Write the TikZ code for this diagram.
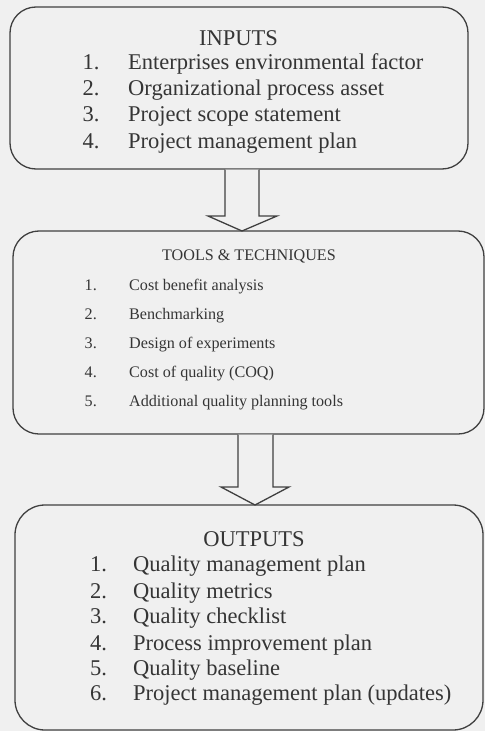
\documentclass[tikz,border=0pt]{standalone}
\usepackage{fontspec}
\setmainfont{Liberation Serif}
\definecolor{bgc}{HTML}{F0F0F0}
\definecolor{linec}{HTML}{404040}
\definecolor{txtc}{HTML}{353535}
\begin{document}
\begin{tikzpicture}[x=1bp,y=-1bp,
  box/.style={draw=linec,line width=1.3bp,rounded corners=26bp,fill=bgc,inner sep=0pt},
  bigtxt/.style={text=txtc,font=\fontsize{22.6}{26}\selectfont,inner sep=0pt},
  smalltxt/.style={text=txtc,font=\fontsize{16.2}{19}\selectfont,inner sep=0pt},
  blockarrow/.style={draw=linec,line width=1.3bp,fill=bgc,line join=miter}]
\fill[bgc] (0,0) rectangle (485,731);
\useasboundingbox (0,0) rectangle (485,731);
% boxes
\node[box,minimum width=458bp,minimum height=162bp] (in) at (239,88) {};
\node[box,minimum width=471bp,minimum height=203bp] (tt) at (248.5,332.5) {};
\node[box,minimum width=468bp,minimum height=225bp,rounded corners=30bp] (out) at (249,617.5) {};
% arrows
\coordinate (a1tip) at (242,231);
\draw[blockarrow] (225,0 |- in.south) -- (225,216) -- (208,216) -- (a1tip) -- (277,216) -- (259,216) -- (259,0 |- in.south);
\coordinate (a2tip) at (255,505);
\draw[blockarrow] (238,0 |- tt.south) -- (238,487) -- (221,487) -- (a2tip) -- (289,487) -- (273,487) -- (273,0 |- tt.south);
% inputs text
\node[bigtxt,anchor=base] (inT) at (238.5,46) {INPUTS};
\node[bigtxt,anchor=base west] (in1n) at (82.5,70) {1.};
\node[bigtxt,anchor=base west] (in1) at (128,70) {Enterprises environmental factor};
\node[bigtxt,anchor=base west] (in2n) at (82.5,96) {2.};
\node[bigtxt,anchor=base west] (in2) at (128,96) {Organizational process asset};
\node[bigtxt,anchor=base west] (in3n) at (82.5,121.5) {3.};
\node[bigtxt,anchor=base west] (in3) at (128,121.5) {Project scope statement};
\node[bigtxt,anchor=base west] (in4n) at (82.5,148) {4.};
\node[bigtxt,anchor=base west] (in4) at (128,148) {Project management plan};
% tools text
\node[smalltxt,anchor=base] (ttT) at (249,260.5) {TOOLS \& TECHNIQUES};
\node[smalltxt,anchor=base west] (tt1n) at (84.5,290) {1.};
\node[smalltxt,anchor=base west] (tt1) at (129,290) {Cost benefit analysis};
\node[smalltxt,anchor=base west] (tt2n) at (84.5,319.3) {2.};
\node[smalltxt,anchor=base west] (tt2) at (129,319.3) {Benchmarking};
\node[smalltxt,anchor=base west] (tt3n) at (84.5,348.3) {3.};
\node[smalltxt,anchor=base west] (tt3) at (129,348.3) {Design of experiments};
\node[smalltxt,anchor=base west] (tt4n) at (84.5,377.3) {4.};
\node[smalltxt,anchor=base west] (tt4) at (129,377.3) {Cost of quality (COQ)};
\node[smalltxt,anchor=base west] (tt5n) at (84.5,406) {5.};
\node[smalltxt,anchor=base west] (tt5) at (129,406) {Additional quality planning tools};
% outputs text
\node[bigtxt,anchor=base] (outT) at (254,546.7) {OUTPUTS};
\node[bigtxt,anchor=base west] (o1n) at (90,571.7) {1.};
\node[bigtxt,anchor=base west] (o1) at (133,571.7) {Quality management plan};
\node[bigtxt,anchor=base west] (o2n) at (90,598.3) {2.};
\node[bigtxt,anchor=base west] (o2) at (133,598.3) {Quality metrics};
\node[bigtxt,anchor=base west] (o3n) at (90,623.3) {3.};
\node[bigtxt,anchor=base west] (o3) at (133,623.3) {Quality checklist};
\node[bigtxt,anchor=base west] (o4n) at (90,650) {4.};
\node[bigtxt,anchor=base west] (o4) at (133,650) {Process improvement plan};
\node[bigtxt,anchor=base west] (o5n) at (90,675) {5.};
\node[bigtxt,anchor=base west] (o5) at (133,675) {Quality baseline};
\node[bigtxt,anchor=base west] (o6n) at (90,700) {6.};
\node[bigtxt,anchor=base west] (o6) at (133,700) {Project management plan (updates)};
\end{tikzpicture}
\end{document}
